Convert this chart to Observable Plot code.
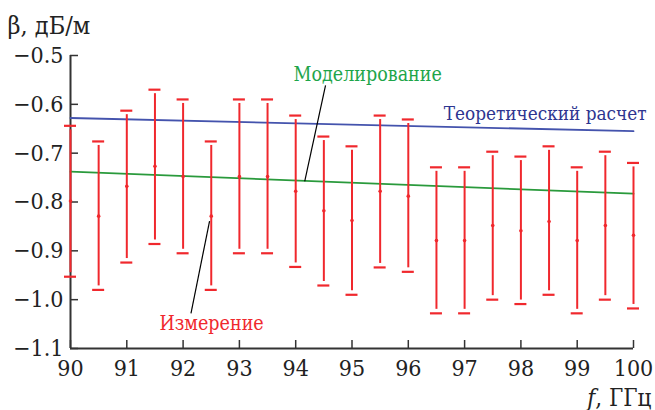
<!DOCTYPE html>
<html>
<head>
<meta charset="utf-8">
<script src="https://cdn.jsdelivr.net/npm/d3@7"></script>
<script src="https://cdn.jsdelivr.net/npm/@observablehq/plot@0.6"></script>
<style>
  html, body { margin: 0; padding: 0; background: #fff; }
  #chart svg { display: block; }
  #chart svg text { font-stretch: condensed; }
</style>
</head>
<body>
<div id="chart"></div>
<script>
// Measurement frequencies (GHz)
const freq = [90, 90.5, 91, 91.5, 92, 92.5, 93, 93.5, 94, 94.5, 95, 95.5, 96, 96.5, 97, 97.5, 98, 98.5, 99, 99.5, 100];
// Measured attenuation (dB/m): center, upper, lower
const measMid = [-0.798, -0.829, -0.768, -0.727, -0.748, -0.829, -0.748, -0.748, -0.778, -0.818, -0.838, -0.778, -0.788, -0.879, -0.879, -0.848, -0.859, -0.840, -0.879, -0.848, -0.868];
const measHi  = [-0.644, -0.676, -0.613, -0.570, -0.590, -0.676, -0.590, -0.590, -0.623, -0.666, -0.686, -0.623, -0.631, -0.729, -0.729, -0.697, -0.707, -0.686, -0.729, -0.697, -0.720];
const measLo  = [-0.953, -0.980, -0.924, -0.886, -0.905, -0.980, -0.905, -0.905, -0.933, -0.971, -0.990, -0.934, -0.943, -1.028, -1.028, -1.000, -1.009, -0.990, -1.028, -1.000, -1.018];
// Model & theory curves
const lineFreq = [90, 100];
const modelVals = [-0.738, -0.783];
const theoryVals = [-0.628, -0.655];
// Ticks & labels
const xTicks = [90, 91, 92, 93, 94, 95, 96, 97, 98, 99, 100];
const yTicks = [-0.5, -0.6, -0.7, -0.8, -0.9, -1.0, -1.1];
const yTitle = "β, дБ/м";
const xTitle = "f, ГГц";
const seriesNames = ["Измерение", "Моделирование", "Теоретический расчет"];

const meas = freq.map((f, i) => ({f, mid: measMid[i], hi: measHi[i], lo: measLo[i]}));
const model = lineFreq.map((f, i) => ({f, v: modelVals[i]}));
const theory = lineFreq.map((f, i) => ({f, v: theoryVals[i]}));

const RED = "#f0282d", GREEN = "#2a9a3c", BLUE = "#4453ad";
const GREEN_T = "#1ea54a", BLUE_T = "#2e3590";
const FONT = "DejaVu Serif Condensed, DejaVu Serif";
const AX = "#333";

const chart = Plot.plot({
  width: 655,
  height: 410,
  marginLeft: 70,
  marginRight: 22,
  marginTop: 55,
  marginBottom: 62,
  style: {fontFamily: FONT, background: "#fff", overflow: "visible"},
  x: {domain: [90, 100]},
  y: {domain: [-1.1, -0.5]},
  marks: [
    Plot.axisX({ticks: xTicks, tickSize: -8, tickPadding: 19, tickFormat: d => String(d), fontSize: 23, fontFamily: FONT, color: "#222", stroke: AX, strokeWidth: 1.5, label: null}),
    Plot.axisY({ticks: yTicks, tickSize: -8, tickPadding: 15, tickFormat: d => d3.format(".1f")(d).replace("-", "\u2212"), fontSize: 23, fontFamily: FONT, color: "#222", stroke: AX, strokeWidth: 1.5, label: null}),
    Plot.ruleX([90], {stroke: AX, strokeWidth: 2}),
    Plot.ruleY([-1.1], {stroke: AX, strokeWidth: 2}),
    Plot.line(theory, {x: "f", y: "v", stroke: BLUE, strokeWidth: 1.8}),
    Plot.line(model, {x: "f", y: "v", stroke: GREEN, strokeWidth: 1.8}),
    Plot.ruleX(meas, {x: "f", y1: "lo", y2: "hi", stroke: RED, strokeWidth: 2, insetTop: -4, insetBottom: -4}),
    Plot.ruleY(meas, {y: "hi", x1: "f", x2: "f", stroke: RED, strokeWidth: 2.2, insetLeft: -6, insetRight: -6}),
    Plot.ruleY(meas, {y: "lo", x1: "f", x2: "f", stroke: RED, strokeWidth: 2.2, insetLeft: -6, insetRight: -6}),
    Plot.dot(meas, {x: "f", y: "mid", r: 1.8, fill: RED}),
    Plot.link([seriesNames[1]], {x1: 94.53, y1: -0.561, x2: 94.16, y2: -0.758, stroke: "#000", strokeWidth: 1.2}),
    Plot.link([seriesNames[0]], {x1: 92.47, y1: -0.839, x2: 92.14, y2: -1.028, stroke: "#000", strokeWidth: 1.2}),
    Plot.text([seriesNames[1]], {text: d => d, x: 93.96, y: -0.553, textAnchor: "start", lineAnchor: "bottom", fontSize: 19.5, fontFamily: FONT, fill: GREEN_T}),
    Plot.text([seriesNames[2]], {text: d => d, x: 96.63, y: -0.632, textAnchor: "start", lineAnchor: "bottom", fontSize: 18.8, fontFamily: FONT, fill: BLUE_T}),
    Plot.text([seriesNames[0]], {text: d => d, x: 91.58, y: -1.062, textAnchor: "start", lineAnchor: "bottom", fontSize: 19.5, fontFamily: FONT, fill: RED}),
    Plot.text([yTitle], {text: d => d, frameAnchor: "top-left", dx: -63, dy: -22, textAnchor: "start", lineAnchor: "bottom", fontSize: 25, fontFamily: FONT, fill: "#222"}),
    Plot.text([xTitle], {text: d => d, frameAnchor: "bottom-right", dx: 18, dy: 57, textAnchor: "end", lineAnchor: "bottom", fontSize: 24, fontFamily: FONT, fill: "#222"})
  ]
});

d3.select(chart).selectAll("text").each(function() {
  if (this.textContent === xTitle) {
    const t = d3.select(this);
    t.text(null);
    t.append("tspan").attr("font-style", "italic").text(xTitle.slice(0, 1));
    t.append("tspan").text(xTitle.slice(1));
  }
});

document.getElementById("chart").appendChild(chart);
</script>
</body>
</html>
